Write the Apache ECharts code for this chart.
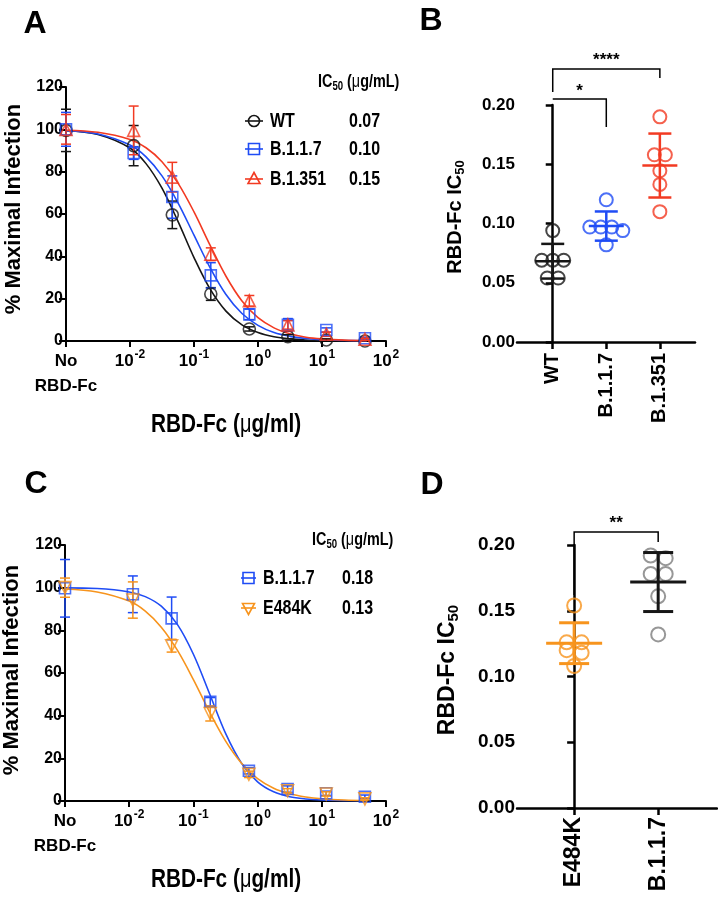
<!DOCTYPE html>
<html><head><meta charset="utf-8">
<script src="https://cdn.jsdelivr.net/npm/echarts@6/dist/echarts.min.js"></script>
<style>html,body{margin:0;padding:0;background:#fff}#c{width:718px;height:899px}</style>
</head><body><div id="c"></div><script>
// ---------------- data ----------------
// dose series (µg/ml); the first entry is the "No RBD-Fc" control drawn at the left end of the log axis
const doses = [0.001, 0.0114, 0.0458, 0.183, 0.732, 2.93, 11.7, 46.9];
// Panel A: % maximal infection (mean) and error
const aWT       = [99.5, 92.3, 59.6, 22.2, 5.7, 2.0, 0.5, 0.0];
const aWTerr    = [10, 9.5, 6.5, 3, 1, 1, 0.5, 0.5];
const aB117     = [100, 88.8, 68, 31, 12.6, 7.6, 5.2, 1.3];
const aB117err  = [8, 3, 10, 6, 2.5, 3, 1, 0.5];
const aB1351    = [100, 99.5, 77.4, 41, 19, 7.6, 3.2, 0.8];
const aB1351err = [7, 11.5, 7, 3, 2.5, 2, 1, 0.5];
// Panel C
const cB117     = [99.7, 96.9, 85.6, 46.5, 14.2, 5.6, 3.6, 2.0];
const cB117err  = [13.5, 8.6, 10, 2, 1.5, 1.5, 1, 0.8];
const cE484K    = [100, 94.2, 72.8, 41, 12.5, 4.8, 3.3, 1.0];
const cE484Kerr = [4.5, 8.5, 3, 3.5, 1.5, 1, 1, 0.5];
// fitted curves at these doses
const curveDoses = [0.001, 0.00316, 0.01, 0.0178, 0.0316, 0.0562, 0.1, 0.178, 0.316, 0.562, 1, 1.78, 3.16, 5.62, 10, 22.4, 50];
const fitAWT    = [99.4, 97.6, 91.2, 83.8, 72.2, 56.5, 39.4, 24.6, 14.1, 7.6, 4.0, 2.0, 1.0, 0.5, 0.26, 0.1, 0.04];
const fitAB117  = [99.4, 97.8, 92.6, 87.0, 78.0, 65.3, 50.0, 34.7, 22.0, 13.0, 7.4, 4.0, 2.2, 1.2, 0.6, 0.26, 0.1];
const fitAB1351 = [99.6, 98.6, 95.2, 91.3, 84.7, 74.6, 61.0, 45.3, 30.6, 18.9, 11.0, 6.2, 3.4, 1.8, 1.0, 0.4, 0.17];
const fitCB117  = [99.9, 99.6, 98.0, 95.8, 91.3, 82.8, 68.8, 50.4, 31.8, 17.7, 9.0, 4.3, 2.0, 0.95, 0.44, 0.15, 0.05];
const fitCE484K = [99.4, 98.0, 93.7, 89.0, 81.5, 70.7, 56.9, 41.8, 28.2, 17.7, 10.5, 6.0, 3.4, 1.9, 1.03, 0.45, 0.19];
const namesA = ['WT', 'B.1.1.7', 'B.1.351'];
const ic50A  = ['0.07', '0.10', '0.15'];
const namesC = ['B.1.1.7', 'E484K'];
const ic50C  = ['0.18', '0.13'];
// Panel B: RBD-Fc IC50 per replicate
const catsB  = ['WT', 'B.1.1.7', 'B.1.351'];
const bWT    = [0.094, 0.069, 0.069, 0.069, 0.054, 0.054];
const bB117  = [0.120, 0.097, 0.097, 0.097, 0.094, 0.082];
const bB1351 = [0.190, 0.158, 0.158, 0.1445, 0.133, 0.110];
// Panel D
const catsD  = ['E484K', 'B.1.1.7'];
const dE484K = [0.154, 0.126, 0.126, 0.120, 0.118, 0.108];
const dB117  = [0.192, 0.190, 0.178, 0.178, 0.161, 0.132];
const sigB = [{from: 0, to: 2, label: '****'}, {from: 0, to: 1, label: '*'}];
const sigD = [{from: 0, to: 1, label: '**'}];

// ---------------- style ----------------
const SANS = "'Liberation Sans',Arial,sans-serif";
const BLACK = '#161616', BLUE = '#1f4cf5', RED = '#f23a22', ORANGE = '#f7941d', GRAY = '#7d7d7d';
const SQ = 0.8; // horizontal squeeze for the condensed-looking horizontal text of the reference

const gA = {left: 66, top: 87, width: 320, height: 254};
const gB = {left: 517, top: 105, width: 178, height: 237};
const gC = {left: 65, top: 545, width: 321, height: 256};
const gD = {left: 517, top: 545, width: 200, height: 263};
const bMin = -0.667, bMax = 2.656, dMin = -0.68, dMax = 1.70;

const chart = echarts.init(document.getElementById('c'));

function pairs(xs, ys) { return xs.map((x, i) => [x, ys[i]]); }
function triples(xs, ys, es) { return xs.map((x, i) => [x, ys[i], es[i]]); }
function mean(a) { return a.reduce((s, v) => s + v, 0) / a.length; }
function sd(a) { const m = mean(a); return Math.sqrt(a.reduce((s, v) => s + (v - m) * (v - m), 0) / (a.length - 1)); }

function fmtLog(v) {
  const e = Math.round(Math.log10(v));
  if (e <= -3) return '{n|No}\n{n|RBD-Fc}';
  return '{n|10}{p|' + e + '}';
}
const logRich = {
  n: {fontFamily: SANS, fontWeight: 'bold', fontSize: 17, lineHeight: 25, color: '#000'},
  p: {fontFamily: SANS, fontWeight: 'bold', fontSize: 12, verticalAlign: 'top', color: '#000', padding: [0, 0, 0, 1]}
};
function logXAxis(gi) {
  return {gridIndex: gi, type: 'log', logBase: 10, min: 0.001, max: 100,
    axisLine: {lineStyle: {color: '#000', width: 2}},
    axisTick: {length: 6, lineStyle: {color: '#000', width: 2}},
    splitLine: {show: false}, minorTick: {show: false},
    axisLabel: {formatter: fmtLog, rich: logRich, margin: 8, interval: 0}};
}
function pctYAxis(gi) {
  return {gridIndex: gi, type: 'value', min: 0, max: 120, interval: 20,
    axisLine: {show: true, lineStyle: {color: '#000', width: 2}},
    axisTick: {show: true, length: 7, lineStyle: {color: '#000', width: 2}},
    splitLine: {show: false},
    axisLabel: {fontFamily: SANS, fontWeight: 'bold', fontSize: 16, color: '#000', margin: 3}};
}
function catXAxis(gi, min, max, cats, fs, margin) {
  const vals = cats.map((c, i) => i);
  return {gridIndex: gi, type: 'value', min: min, max: max,
    axisLine: {lineStyle: {color: '#000', width: 2.5}},
    axisTick: {show: true, customValues: vals, length: 7, lineStyle: {color: '#000', width: 2.5}},
    splitLine: {show: false},
    axisLabel: {customValues: vals, rotate: 90, margin: margin, fontFamily: SANS, fontWeight: 'bold',
      fontSize: fs, color: '#000', formatter: v => cats[Math.round(v)] || ''}};
}
function icYAxis(gi, fs) {
  return {gridIndex: gi, type: 'value', min: 0, max: 0.2, interval: 0.05,
    axisLine: {show: true, lineStyle: {color: '#000', width: 2.5}},
    axisTick: {show: true, length: 7, lineStyle: {color: '#000', width: 2.5}},
    splitLine: {show: false},
    axisLabel: {fontFamily: SANS, fontWeight: 'bold', fontSize: fs, color: '#000', margin: 2,
      formatter: v => v.toFixed(2)}};
}

function errSeries(ai, data, color, hw) {
  return {type: 'custom', xAxisIndex: ai, yAxisIndex: ai, z: 3, silent: true, data: data,
    renderItem: (p, api) => {
      const x = api.value(0), y = api.value(1), e = api.value(2);
      const lo = Math.max(0, y - e);
      const t = api.coord([x, y + e]), b = api.coord([x, lo]);
      const st = {stroke: color, lineWidth: 1.5, fill: null};
      const ch = [
        {type: 'line', shape: {x1: t[0], y1: t[1], x2: b[0], y2: b[1]}, style: st},
        {type: 'line', shape: {x1: t[0] - hw, y1: t[1], x2: t[0] + hw, y2: t[1]}, style: st}];
      if (lo > 0) ch.push({type: 'line', shape: {x1: b[0] - hw, y1: b[1], x2: b[0] + hw, y2: b[1]}, style: st});
      return {type: 'group', children: ch};
    }};
}
function fitSeries(ai, ys, color) {
  return {type: 'line', xAxisIndex: ai, yAxisIndex: ai, data: pairs(curveDoses, ys), smooth: 0.35,
    showSymbol: false, silent: true, z: 2, lineStyle: {color: color, width: 1.6}};
}
function ptSeries(ai, ys, color, symbol, rot) {
  return {type: 'scatter', xAxisIndex: ai, yAxisIndex: ai, data: pairs(doses, ys), symbol: symbol,
    symbolSize: symbol === 'rect' ? 11 : 12, symbolRotate: rot || 0, z: 4, silent: true,
    itemStyle: {color: 'rgba(255,255,255,0)', borderColor: color, borderWidth: 1.6}};
}
// spread replicate points with near-equal values side by side (centred), like a column scatter plot
function jitter(vals, center, pxX, pxY, stepPx, closePx) {
  const idx = vals.map((v, i) => i).sort((a, b) => vals[b] - vals[a]);
  const out = new Array(vals.length);
  let i = 0;
  while (i < idx.length) {
    let j = i + 1;
    while (j < idx.length && (vals[idx[i]] - vals[idx[j]]) * pxY < closePx) j++;
    const n = j - i;
    for (let k = i; k < j; k++) out[idx[k]] = [center + (k - i - (n - 1) / 2) * stepPx / pxX, vals[idx[k]]];
    i = j;
  }
  return out;
}
function colScatter(ai, vals, center, color, g, min, max, size, step) {
  const pxX = g.width / (max - min), pxY = g.height / 0.2;
  return {type: 'scatter', xAxisIndex: ai, yAxisIndex: ai, data: jitter(vals, center, pxX, pxY, step, 7),
    symbol: 'circle', symbolSize: size, z: 3, silent: true,
    itemStyle: {color: 'rgba(255,255,255,0)', borderColor: color, borderWidth: 2}};
}
function meanSd(ai, groups, colors, hwMean, hwCap, lw) {
  return {type: 'custom', xAxisIndex: ai, yAxisIndex: ai, z: 5, silent: true,
    data: groups.map((g, i) => [i, mean(g), sd(g)]),
    renderItem: (p, api) => {
      const x = api.value(0), m = api.value(1), s = api.value(2);
      const c = api.coord([x, m]), t = api.coord([x, m + s]), b = api.coord([x, m - s]);
      const st = {stroke: colors[p.dataIndex], lineWidth: lw, fill: null};
      return {type: 'group', children: [
        {type: 'line', shape: {x1: c[0] - hwMean, y1: c[1], x2: c[0] + hwMean, y2: c[1]}, style: st},
        {type: 'line', shape: {x1: t[0], y1: t[1], x2: b[0], y2: b[1]}, style: st},
        {type: 'line', shape: {x1: t[0] - hwCap, y1: t[1], x2: t[0] + hwCap, y2: t[1]}, style: st},
        {type: 'line', shape: {x1: b[0] - hwCap, y1: b[1], x2: b[0] + hwCap, y2: b[1]}, style: st}]};
    }};
}

const series = [
  errSeries(0, triples(doses, aWT, aWTerr), BLACK, 5),
  errSeries(0, triples(doses, aB117, aB117err), BLUE, 5),
  errSeries(0, triples(doses, aB1351, aB1351err), RED, 5),
  fitSeries(0, fitAWT, BLACK), fitSeries(0, fitAB117, BLUE), fitSeries(0, fitAB1351, RED),
  ptSeries(0, aWT, BLACK, 'circle'), ptSeries(0, aB117, BLUE, 'rect'), ptSeries(0, aB1351, RED, 'triangle'),

  colScatter(1, bWT, 0, BLACK, gB, bMin, bMax, 13, 11),
  colScatter(1, bB117, 1, BLUE, gB, bMin, bMax, 13, 11),
  colScatter(1, bB1351, 2, RED, gB, bMin, bMax, 13, 11),
  meanSd(1, [bWT, bB117, bB1351], [BLACK, BLUE, RED], 17.5, 11.5, 2.5),

  errSeries(2, triples(doses, cB117, cB117err), BLUE, 5),
  errSeries(2, triples(doses, cE484K, cE484Kerr), ORANGE, 5),
  fitSeries(2, fitCB117, BLUE), fitSeries(2, fitCE484K, ORANGE),
  ptSeries(2, cB117, BLUE, 'rect'), ptSeries(2, cE484K, ORANGE, 'triangle', 180),

  colScatter(3, dE484K, 0, ORANGE, gD, dMin, dMax, 14, 15),
  colScatter(3, dB117, 1, GRAY, gD, dMin, dMax, 14, 15),
  meanSd(3, [dE484K, dB117], [ORANGE, BLACK], 28, 15, 3)
];

// ---------------- annotation graphics ----------------
function T(x, y, text, font, extra, props) {
  return Object.assign({type: 'text', x: x, y: y, silent: true,
    style: Object.assign({text: text, font: font, fill: '#000', align: 'center', verticalAlign: 'middle'}, extra || {})}, props || {});
}
const graphics = [];
[['A', 35, 24], ['B', 431, 21], ['C', 36, 484], ['D', 432, 485]].forEach(l =>
  graphics.push(T(l[1], l[2], l[0], 'bold 32px ' + SANS)));
graphics.push(T(14, 209, '% Maximal Infection', 'bold 22px ' + SANS, null, {rotation: Math.PI / 2}));
graphics.push(T(12, 670, '% Maximal Infection', 'bold 22px ' + SANS, null, {rotation: Math.PI / 2}));
const xTitle = '{a|RBD-Fc (}{u|μ}{a|g/ml)}';
const xTitleRich = {a: {fontFamily: SANS, fontWeight: 'bold', fontSize: 26}, u: {fontFamily: SANS, fontSize: 25}};
graphics.push(T(226, 425, xTitle, null, {rich: xTitleRich}, {scaleX: SQ}));
graphics.push(T(226, 880, xTitle, null, {rich: xTitleRich}, {scaleX: SQ}));
function icTitle(x, y, fs) {
  const r = {a: {fontFamily: SANS, fontWeight: 'bold', fontSize: fs, lineHeight: fs + 4},
             s: {fontFamily: SANS, fontWeight: 'bold', fontSize: Math.round(fs * 0.65), verticalAlign: 'bottom'}};
  return T(x, y, '{a|RBD-Fc IC}{s|50}', null, {rich: r}, {rotation: Math.PI / 2});
}
graphics.push(icTitle(455, 217, 20), icTitle(448, 670, 23));

function legend(L, names, vals, colors, shapes) {
  const hdrRich = {a: {fontFamily: SANS, fontWeight: 'bold', fontSize: 18, lineHeight: 22},
                   s: {fontFamily: SANS, fontWeight: 'bold', fontSize: 12, verticalAlign: 'bottom'},
                   u: {fontFamily: SANS, fontSize: 18, lineHeight: 22}};
  graphics.push(T(L.hx, L.hy, '{a|IC}{s|50}{a| (}{u|μ}{a|g/mL)}', null, {rich: hdrRich, align: 'left'}, {scaleX: SQ}));
  names.forEach((nm, i) => {
    const y = L.ys[i], cx = (L.x0 + L.x1) / 2, c = colors[i];
    const st = {stroke: c, lineWidth: 1.6, fill: 'rgba(255,255,255,0)'};
    graphics.push({type: 'line', silent: true, shape: {x1: L.x0, y1: y, x2: L.x1, y2: y}, style: {stroke: c, lineWidth: 1.6}});
    const sh = shapes[i];
    if (sh === 'circle') graphics.push({type: 'circle', silent: true, shape: {cx: cx, cy: y, r: 5.5}, style: st});
    else if (sh === 'rect') graphics.push({type: 'rect', silent: true, shape: {x: cx - 5.5, y: y - 5.5, width: 11, height: 11}, style: st});
    else if (sh === 'up') graphics.push({type: 'polygon', silent: true, shape: {points: [[cx, y - 6.5], [cx + 6, y + 4.5], [cx - 6, y + 4.5]]}, style: st});
    else graphics.push({type: 'polygon', silent: true, shape: {points: [[cx, y + 6.5], [cx + 6, y - 4.5], [cx - 6, y - 4.5]]}, style: st});
    graphics.push(T(L.nx, y, nm, 'bold 20px ' + SANS, {align: 'left'}, {scaleX: SQ}));
    graphics.push(T(L.vx, y, vals[i], 'bold 20px ' + SANS, {align: 'left'}, {scaleX: SQ}));
  });
}
legend({x0: 245, x1: 263, nx: 270, vx: 349, ys: [121, 149, 179], hx: 318, hy: 82}, namesA, ic50A, [BLACK, BLUE, RED], ['circle', 'rect', 'up']);
legend({x0: 241, x1: 256, nx: 263, vx: 342, ys: [578, 608], hx: 312, hy: 540}, namesC, ic50C, [BLUE, ORANGE], ['rect', 'down']);

chart.setOption({
  animation: false,
  backgroundColor: '#fff',
  textStyle: {fontFamily: SANS},
  grid: [gA, gB, gC, gD].map(g => Object.assign({containLabel: false}, g)),
  xAxis: [logXAxis(0), catXAxis(1, bMin, bMax, catsB, 20, 11), logXAxis(2), catXAxis(3, dMin, dMax, catsD, 23, 9)],
  yAxis: [pctYAxis(0), icYAxis(1, 17), pctYAxis(2), icYAxis(3, 19)],
  series: series,
  graphic: graphics
});

// significance brackets (vertical positions in pixels above the plot area)
function brackets(ai, sigs, levels) {
  const out = [];
  sigs.forEach((s, i) => {
    const L = levels[i];
    const x1 = chart.convertToPixel({xAxisIndex: ai}, s.from), x2 = chart.convertToPixel({xAxisIndex: ai}, s.to);
    const st = {stroke: '#000', lineWidth: 1.5, fill: null};
    out.push({type: 'polyline', silent: true, shape: {points: [[x1, L.l], [x1, L.y], [x2, L.y], [x2, L.r]]}, style: st});
    out.push(T((x1 + x2) / 2, L.t, s.label, 'bold 17px ' + SANS));
  });
  return out;
}
const extra = brackets(1, sigB, [{y: 69, l: 92, r: 78, t: 60}, {y: 99, l: 99, r: 127, t: 91}])
  .concat(brackets(3, sigD, [{y: 532, l: 595, r: 542, t: 523}]));
chart.setOption({graphic: graphics.concat(extra)});
</script></body></html>
